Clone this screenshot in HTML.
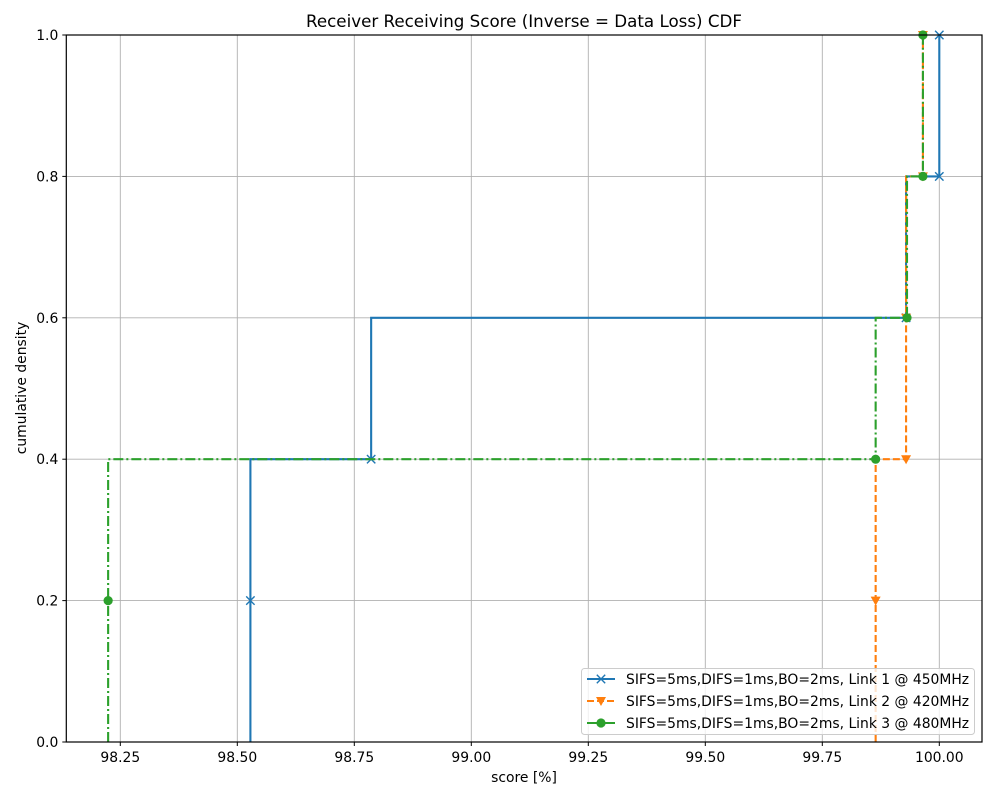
<!DOCTYPE html>
<html><head><meta charset="utf-8"><style>
html,body{margin:0;padding:0;background:#fff;}
svg text{font-family:"DejaVu Sans","Liberation Sans",sans-serif;}
</style></head><body>
<svg id="chart" width="1000" height="800" viewBox="0 0 1000 800" xmlns="http://www.w3.org/2000/svg">
<rect width="1000" height="800" fill="#fff"/>
<text x="524" y="27" text-anchor="middle" font-size="16.7">Receiver Receiving Score (Inverse = Data Loss) CDF</text>
<g id="grid"></g>
<g id="series"></g>
<rect x="66.3" y="35" width="915.7" height="707" fill="none" stroke="#000" stroke-width="1.2"/>
<g id="ticks"></g>
<text x="524" y="782" text-anchor="middle" font-size="13.9">score [%]</text>
<text transform="translate(26,388) rotate(-90)" text-anchor="middle" font-size="13.9">cumulative density</text>
<g id="legend"></g>
</svg>
<script>
const xTicks = [98.25, 98.50, 98.75, 99.00, 99.25, 99.50, 99.75, 100.00];
const yTicks = [0.0, 0.2, 0.4, 0.6, 0.8, 1.0];
const seriesNames = ["SIFS=5ms,DIFS=1ms,BO=2ms, Link 1 @ 450MHz","SIFS=5ms,DIFS=1ms,BO=2ms, Link 2 @ 420MHz","SIFS=5ms,DIFS=1ms,BO=2ms, Link 3 @ 480MHz"];
const cdfY = [0.0, 0.2, 0.4, 0.6, 0.8, 1.0];
const link1X = [98.528, 98.528, 98.786, 99.929, 100.0, 100.0];
const link2X = [99.864, 99.864, 99.929, 99.929, 99.965, 99.965];
const link3X = [98.224, 98.224, 99.864, 99.931, 99.965, 99.965];

const NS="http://www.w3.org/2000/svg";
const X0=66.3,X1=982,Y0=742,Y1=35;
const xmin=98.25-(120.3-X0)/468, xmax=98.25+(X1-120.3)/468;
function sx(v){return X0+(v-xmin)/(xmax-xmin)*(X1-X0);}
function sy(v){return Y0-(v-0)/(1-0)*(Y0-Y1);}
function mk(tag,attrs,parent){const e=document.createElementNS(NS,tag);for(const k in attrs)e.setAttribute(k,attrs[k]);parent.appendChild(e);return e;}
const grid=document.getElementById('grid'),ticks=document.getElementById('ticks'),ser=document.getElementById('series'),leg=document.getElementById('legend');
xTicks.forEach(t=>{const x=sx(t);
 const g=mk('line',{x1:x,x2:x,y1:Y1,y2:Y0,stroke:'#b0b0b0','stroke-width':0.9},grid);
 
 
 mk('line',{x1:x,x2:x,y1:Y0,y2:Y0+4,stroke:'#000','stroke-width':1},ticks);
 const tx=mk('text',{x:x,y:Y0+20,'text-anchor':'middle','font-size':13.9},ticks);tx.textContent=t.toFixed(2);
 
 
});
yTicks.forEach(t=>{const y=sy(t);
 const g=mk('line',{x1:X0,x2:X1,y1:y,y2:y,stroke:'#b0b0b0','stroke-width':0.9},grid);
 
 
 mk('line',{x1:X0-4,x2:X0,y1:y,y2:y,stroke:'#000','stroke-width':1},ticks);
 const tx=mk('text',{x:X0-8,y:y+5,'text-anchor':'end','font-size':13.9},ticks);tx.textContent=t.toFixed(1);
 
 
});
const colors=['#1f77b4','#ff7f0e','#2ca02c'];
const dashes=['none','7,3','10,3,2,3'];
const xsAll=[link1X,link2X,link3X];
function marker(i,x,y,p){
 if(i===0){const s=4.2;mk('path',{d:`M${x-s},${y-s}L${x+s},${y+s}M${x-s},${y+s}L${x+s},${y-s}`,stroke:colors[0],'stroke-width':1.4,fill:'none'},p);}
 else if(i===1){mk('path',{d:`M${x-5},${y-4}L${x+5},${y-4}L${x},${y+5}Z`,fill:colors[1]},p);}
 else mk('circle',{cx:x,cy:y,r:4.6,fill:colors[2]},p);
}
xsAll.forEach((xs,i)=>{
 const g=mk('g',{},ser);
 
 
 let d=`M${sx(xs[0])},${sy(cdfY[0])}`;
 for(let k=0;k<xs.length-1;k++){d+=`L${sx(xs[k])},${sy(cdfY[k+1])}L${sx(xs[k+1])},${sy(cdfY[k+1])}`;}
 const p=mk('path',{d:d,fill:'none',stroke:colors[i],'stroke-width':2.1,'stroke-dasharray':dashes[i]},g);
 
 
 for(let k=1;k<xs.length;k++) marker(i,sx(xs[k]),sy(cdfY[k]),g);
});
// legend
const lb=mk('rect',{x:581.5,y:668.5,width:393,height:66,rx:3,fill:'#fff','fill-opacity':0.8,stroke:'#ccc'},leg);


seriesNames.forEach((n,i)=>{const y=679+i*22;
 const g=mk('g',{},leg);
 
 
 mk('line',{x1:587,x2:615,y1:y,y2:y,stroke:colors[i],'stroke-width':2,'stroke-dasharray':dashes[i]},g);
 marker(i,601,y,g);
 const t=mk('text',{x:626,y:y+5,'font-size':13.9},g);t.textContent=n;
});
</script>
</body></html>
